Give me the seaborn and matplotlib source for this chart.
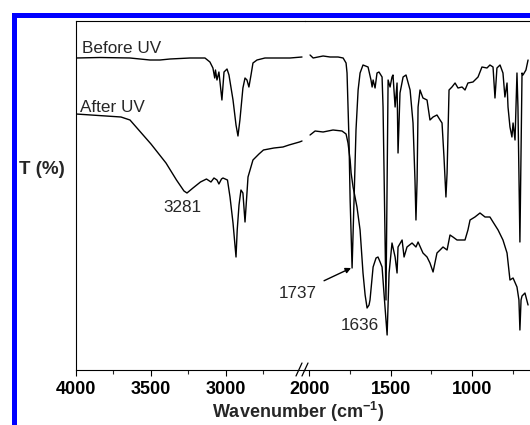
import matplotlib
matplotlib.use("Agg")
import matplotlib.pyplot as plt
import pandas as pd
import seaborn as sns
from matplotlib.patches import Rectangle
from matplotlib.lines import Line2D

# ---------------- data ----------------
# wavenumbers (cm-1) and transmittance (arbitrary units, axis has no ticks)
before_left_wn = [4000, 3840, 3640, 3507, 3440, 3373, 3240, 3140, 3107, 3087, 3075, 3070,
                  3060, 3047, 3027, 3013, 2993, 2980, 2953, 2933, 2920, 2907, 2887, 2873,
                  2860, 2847, 2833, 2820, 2793, 2740, 2640, 2573, 2493]
before_left_T = [312, 312.5, 312, 310, 310, 311, 312, 312, 308, 302, 292, 300,
                 290, 298, 270, 298, 301, 295, 270, 245, 234, 250, 282, 292,
                 290, 283, 295, 307, 310, 312, 312, 312, 313]

after_left_wn = [4000, 3900, 3800, 3700, 3640, 3500, 3400, 3330, 3280, 3260, 3220, 3170,
                 3130, 3100, 3080, 3060, 3047, 3030, 3020, 2990, 2973, 2953, 2933, 2925,
                 2913, 2900, 2887, 2873, 2860, 2853, 2820, 2780, 2750, 2680, 2620, 2580,
                 2510, 2493]
after_left_T = [256, 255, 254, 253, 250, 226, 207, 190, 179, 177, 182, 188,
                191, 188, 192, 190, 186, 191, 192, 190, 173, 147, 113, 140,
                165, 180, 177, 148, 177, 193, 210, 216, 220, 222, 223, 225,
                228, 229]

before_right_wn = [1994, 1975, 1945, 1914, 1871, 1822, 1791, 1773, 1767, 1755, 1748, 1736,
                   1724, 1712, 1699, 1687, 1669, 1638, 1620, 1613, 1607, 1595, 1583, 1571,
                   1552, 1546, 1540, 1528, 1515, 1503, 1491, 1485, 1472, 1460, 1454, 1442,
                   1423, 1405, 1380, 1362, 1350, 1344, 1337, 1331, 1319, 1301, 1276, 1258,
                   1239, 1215, 1196, 1184, 1172, 1160, 1153, 1141, 1123, 1104, 1086, 1061,
                   1043, 1025, 994, 963, 939, 908, 890, 871, 859, 847, 828, 810,
                   798, 785, 779, 767, 755, 748, 736, 724, 718, 706, 693, 687,
                   669, 656]
before_right_T = [315, 312, 313, 314, 313, 313, 312, 307, 297, 230, 170, 102,
                  170, 240, 280, 297, 305, 303, 290, 283, 290, 282, 297, 298,
                  293, 263, 200, 70, 290, 283, 293, 295, 263, 287, 217, 277,
                  293, 295, 280, 247, 190, 150, 190, 263, 280, 272, 270, 250,
                  253, 255, 250, 247, 213, 173, 197, 280, 283, 287, 282, 283,
                  280, 287, 288, 293, 303, 302, 305, 303, 272, 302, 305, 297,
                  273, 287, 263, 243, 233, 247, 230, 297, 263, 128, 297, 295,
                  300, 310]

after_right_wn = [1994, 1963, 1914, 1853, 1798, 1773, 1761, 1748, 1742, 1730, 1706, 1687,
                  1669, 1656, 1644, 1632, 1626, 1607, 1589, 1577, 1564, 1552, 1534, 1521,
                  1509, 1491, 1472, 1460, 1454, 1429, 1417, 1399, 1368, 1344, 1331, 1301,
                  1276, 1258, 1239, 1215, 1196, 1178, 1153, 1135, 1117, 1092, 1074, 1043,
                  1025, 1012, 982, 951, 920, 890, 871, 840, 810, 785, 767, 748,
                  724, 712, 706, 699, 693, 675, 656]
after_right_T = [235, 239, 238, 240, 239, 236, 227, 210, 197, 183, 163, 140,
                 97, 75, 62, 65, 70, 103, 112, 113, 108, 103, 63, 35,
                 97, 127, 113, 97, 123, 130, 113, 123, 127, 123, 128, 117,
                 113, 107, 98, 117, 120, 123, 120, 135, 133, 130, 130, 130,
                 140, 150, 153, 157, 153, 153, 148, 140, 130, 117, 90, 92,
                 83, 70, 40, 70, 74, 77, 65]

left_major = [4000, 3500, 3000]
left_minor = [3750, 3250, 2750]
right_major = [2000, 1500, 1000]
right_minor = [1750, 1250, 750]
left_xlim = (4000, 2473)
right_xlim = (2025, 552)
y_lim = (0, 349)

series_names = ["Before UV", "After UV"]
peak_labels = ["3281", "1737", "1636"]

# ---------------- style ----------------
sns.set_style("ticks")
plt.rcParams["font.family"] = ["Liberation Sans", "DejaVu Sans"]
plt.rcParams["mathtext.fontset"] = "custom"
plt.rcParams["mathtext.rm"] = "Liberation Sans"
plt.rcParams["mathtext.bf"] = "Liberation Sans:bold"

W, H = 530, 425
fig = plt.figure(figsize=(W / 100, H / 100), dpi=100)
fig.patch.set_facecolor("white")


def fx(px):
    return px / W


def fy(py):
    return 1 - py / H


axL = fig.add_axes([fx(76), fy(370), fx(305) - fx(76), fy(21) - fy(370)])
axR = fig.add_axes([fx(305), fy(370), fx(545) - fx(305), fy(21) - fy(370)])

dfs_left = [pd.DataFrame({"wn": before_left_wn, "T": before_left_T}),
            pd.DataFrame({"wn": after_left_wn, "T": after_left_T})]
dfs_right = [pd.DataFrame({"wn": before_right_wn, "T": before_right_T}),
             pd.DataFrame({"wn": after_right_wn, "T": after_right_T})]

for d in dfs_left:
    sns.lineplot(data=d, x="wn", y="T", ax=axL, color="black", lw=1.0,
                 estimator=None, sort=False)
for d in dfs_right:
    sns.lineplot(data=d, x="wn", y="T", ax=axR, color="black", lw=1.0,
                 estimator=None, sort=False)

for ax, xl, maj, mnr in [(axL, left_xlim, left_major, left_minor),
                         (axR, right_xlim, right_major, right_minor)]:
    ax.set_xlim(*xl)
    ax.set_ylim(*y_lim)
    ax.set_xticks(maj)
    ax.set_xticks(mnr, minor=True)
    ax.set_yticks([])
    ax.set_xlabel("")
    ax.set_ylabel("")
    ax.set_facecolor("none")
    ax.tick_params(axis="x", which="major", direction="out", length=4, width=0.8,
                   labelsize=13, pad=4, colors="black")
    ax.tick_params(axis="x", which="minor", direction="out", length=3, width=0.8)
    for lab in ax.get_xticklabels():
        lab.set_fontweight("bold")
    for s in ax.spines.values():
        s.set_linewidth(0.8)
        s.set_color("black")

axL.spines["right"].set_visible(False)
axR.spines["left"].set_visible(False)

# series labels
fig.text(fx(82), fy(53), series_names[0], fontsize=12.3, va="baseline", ha="left")
fig.text(fx(80), fy(112), series_names[1], fontsize=12.3, va="baseline", ha="left")

# peak labels
axL.text(3287, 162, peak_labels[0], fontsize=12.3, ha="center", va="center")
axR.annotate(peak_labels[1], xy=(1742, 102), xycoords="data",
             xytext=(fx(298), fy(293)), textcoords="figure fraction",
             fontsize=12.3, ha="center", va="center", annotation_clip=False,
             arrowprops=dict(arrowstyle="-|>", color="black", lw=1.0,
                             mutation_scale=8, shrinkA=3, shrinkB=0))
axR.text(1687, 45, peak_labels[2], fontsize=12.3, ha="center", va="center")

# axis titles
fig.text(fx(42), fy(170), "T (%)", fontsize=13.5, fontweight="bold",
         ha="center", va="center")
fig.text(fx(298), fy(412), r"Wavenumber (cm$^{\mathbf{-1}}$)", fontsize=13,
         fontweight="bold", ha="center", va="center")

# axis break marks
for off in (0, 6):
    fig.add_artist(Line2D([fx(296 + off), fx(302 + off)], [fy(376), fy(363)],
                          transform=fig.transFigure, color="black", lw=0.9))

# blue frame
fig.add_artist(Rectangle((fx(13.5), fy(445)), fx(570) - fx(13.5), fy(14.5) - fy(445),
                         transform=fig.transFigure, fill=False,
                         edgecolor="#0000ff", lw=3.6, clip_on=False))

fig.savefig("out.png", dpi=100)
